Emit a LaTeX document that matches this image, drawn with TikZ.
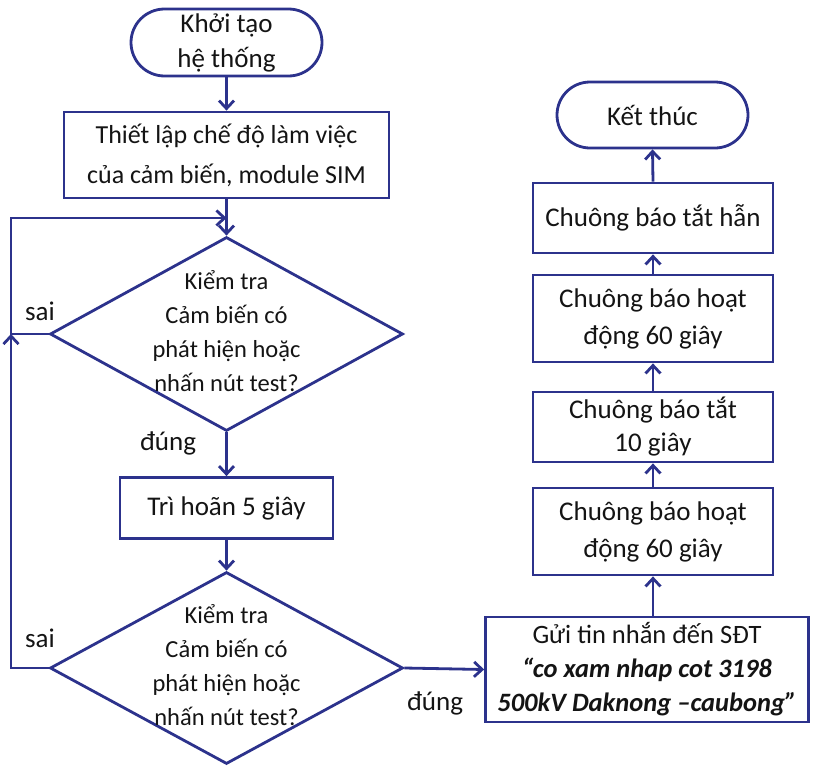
\documentclass[tikz,border=0pt]{standalone}
\usepackage{fontspec}
\setmainfont{Carlito}
\usetikzlibrary{shapes.geometric,shapes.misc,arrows.meta}
\definecolor{navy}{RGB}{44,50,140}
\definecolor{ink}{RGB}{20,20,20}
\tikzset{
  fc/.style={draw=navy,line width=2.8pt,align=center,inner sep=0pt,text=ink,font=\fontsize{27}{35}\selectfont},
  boxnode/.style={fc,rectangle},
  termnode/.style={fc,rounded rectangle},
  decnode/.style={draw=navy,line width=2.8pt,diamond,inner sep=0pt},
  txt/.style={align=center,inner sep=0pt,text=ink,font=\fontsize{27}{34}\selectfont},
  dtxt/.style={txt,font=\fontsize{24.5}{34}\selectfont},
  arr/.style={draw=navy,line width=2.8pt,-{Straight Barb[length=8pt,width=15pt,line width=2.8pt]}}
}
\begin{document}
\begin{tikzpicture}[x=1pt,y=-1pt]
\useasboundingbox (0,0) rectangle (815,766);
% left column
\node[termnode,minimum width=191pt,minimum height=67pt] (start) at (226.5,42.5) {Khởi tạo\\hệ thống};
\node[boxnode,minimum width=325pt,minimum height=86pt,font=\fontsize{26}{40}\selectfont] (setup) at (226.5,155) {Thiết lập chế độ làm việc\\của cảm biến, module SIM};
\node[decnode,minimum width=353pt,minimum height=194pt] (d1) at (226.5,334) {};
\node[dtxt] (d1t) at (226.5,331) {Kiểm tra\\Cảm biến có\\phát hiện hoặc\\nhấn nút test?};
\node[boxnode,minimum width=213pt,minimum height=61pt] (delay) at (226.5,508) {Trì hoãn 5 giây};
\node[decnode,minimum width=353pt,minimum height=192pt] (d2) at (226.5,668) {};
\node[dtxt] (d2t) at (226.5,665) {Kiểm tra\\Cảm biến có\\phát hiện hoặc\\nhấn nút test?};
% right column
\node[boxnode,minimum width=323pt,minimum height=105pt,font=\fontsize{26.5}{34}\selectfont] (sms) at (647,669.5) {Gửi tin nhắn đến SĐT\\\textbf{\textit{“co xam nhap cot 3198}}\\\textbf{\textit{500kV Daknong –caubong”}}};
\node[boxnode,minimum width=240pt,minimum height=87pt,font=\fontsize{27}{37}\selectfont] (c) at (653,531.5) {Chuông báo hoạt\\động 60 giây};
\node[boxnode,minimum width=240pt,minimum height=70pt,font=\fontsize{27}{33}\selectfont] (b) at (653,427) {Chuông báo tắt\\10 giây};
\node[boxnode,minimum width=240pt,minimum height=87pt,font=\fontsize{27}{37}\selectfont] (a) at (653,318.5) {Chuông báo hoạt\\động 60 giây};
\node[boxnode,minimum width=240pt,minimum height=70pt] (off) at (653,218) {Chuông báo tắt hẫn};
\node[termnode,minimum width=191pt,minimum height=66pt] (end) at (652.5,115) {Kết thúc};
% labels
\node[txt] (sai1) at (40,311) {sai};
\node[txt] (sai2) at (40,638) {sai};
\node[txt] (dung1) at (168,443) {đúng};
\node[txt] (dung2) at (435,703) {đúng};
% junctions
\coordinate (j1) at (226.5,218);
\coordinate (j2) at (11,334);
% connectors
\draw[arr] (start.south) -- (setup.north);
\draw[arr] (setup.south) -- (d1.north);
\draw[arr] (d1.west) -- (d1.west -| j2) |- (j1);
\draw[arr] (d1.south) -- (delay.north);
\draw[arr] (delay.south) -- (d2.north);
\draw[arr] (d2.west) -- (d2.west -| j2) -- (j2);
\draw[arr] (d2.east) -- (sms.west);
\draw[arr] (sms.north -| c.south) -- (c.south);
\draw[arr] (c.north) -- (b.south);
\draw[arr] (b.north) -- (a.south);
\draw[arr] (a.north) -- (off.south);
\draw[arr] (off.north) -- (end.south);
\end{tikzpicture}
\end{document}
